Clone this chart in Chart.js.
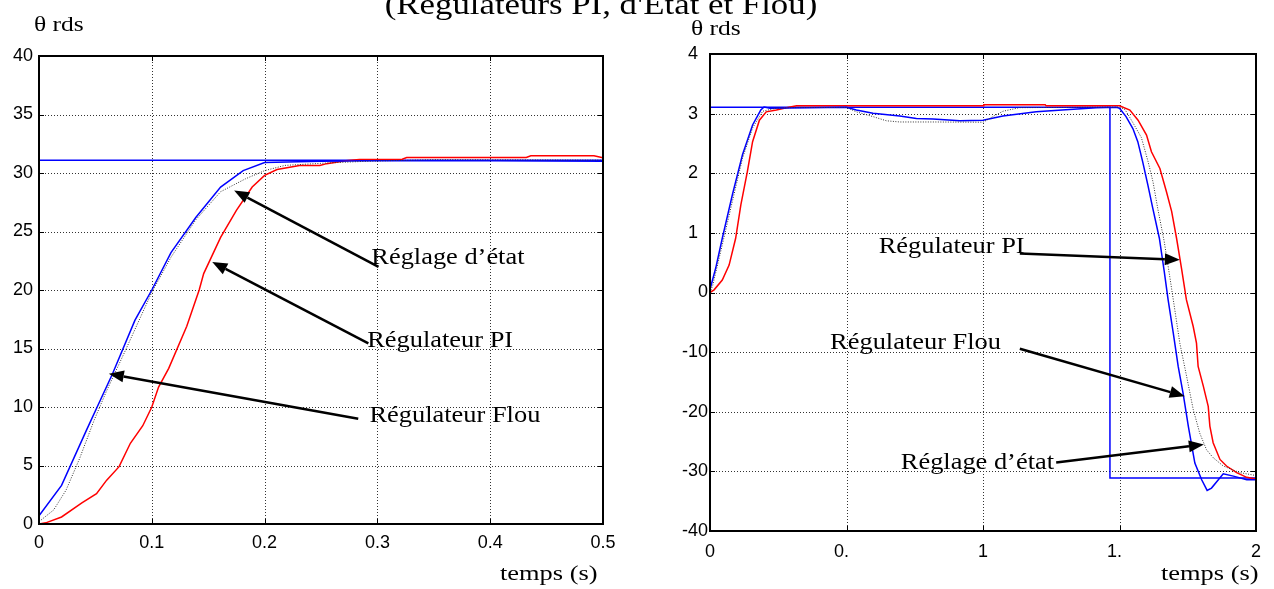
<!DOCTYPE html>
<html>
<head>
<meta charset="utf-8">
<script src="https://cdn.jsdelivr.net/npm/chart.js@4.4.0/dist/chart.umd.min.js"></script>
<style>
  html, body { margin: 0; padding: 0; background: #fff; }
  body { width: 1274px; height: 589px; position: relative; overflow: hidden;
         font-family: 'Liberation Serif', 'Times New Roman', serif; }
  .box { position: absolute; top: 0; }
  .lbl { position: absolute; white-space: nowrap; color: #000; line-height: 1; transform-origin: left top; }
</style>
</head>
<body>
<div class="box" style="left:0; width:637px; height:589px"><canvas id="leftChart" width="637" height="589"></canvas></div>
<div class="box" style="left:640px; width:634px; height:589px"><canvas id="rightChart" width="634" height="589"></canvas></div>

<div class="lbl" style="left:0; width:1202px; text-align:center; top:-11px; font-size:30px; transform-origin:center top; transform:scaleX(1.16)">(Régulateurs PI, d'Etat et Flou)</div>
<div class="lbl" style="left:34px; top:13px; font-size:22px; transform:scaleX(1.16)">θ rds</div>
<div class="lbl" style="left:691px; top:17px; font-size:22px; transform:scaleX(1.16)">θ rds</div>
<div class="lbl" style="left:500px; top:562px; font-size:22px; transform:scaleX(1.2)">temps (s)</div>
<div class="lbl" style="left:1161px; top:562px; font-size:22px; transform:scaleX(1.2)">temps (s)</div>

<script>
// ---- left plot (0 - 0.5 s) ----
const leftTicksX = [0, 0.1, 0.2, 0.3, 0.4, 0.5];
const leftLabelsX = ['0', '0.1', '0.2', '0.3', '0.4', '0.5'];
const leftTicksY = [0, 5, 10, 15, 20, 25, 30, 35, 40];
const leftLabelsY = ['0', '5', '10', '15', '20', '25', '30', '35', '40'];

// consigne
const refLeftT = [0, 0.5];
const refLeftV = [31.08, 31.08];
// régulateur flou (bleu)
const flouLeftT = [0, 0.02, 0.042, 0.053, 0.065, 0.085, 0.1, 0.117, 0.139, 0.161, 0.181, 0.2, 0.25, 0.3, 0.4, 0.5];
const flouLeftV = [0.7, 3.3, 8.0, 10.3, 12.8, 17.4, 20.0, 23.2, 26.2, 28.8, 30.2, 30.9, 31.0, 31.05, 31.05, 31.0];
// réglage d'état (pointillé)
const etatLeftT = [0, 0.013, 0.024, 0.036, 0.049, 0.06, 0.075, 0.1, 0.117, 0.139, 0.161, 0.183, 0.2, 0.218, 0.254, 0.29, 0.35, 0.5];
const etatLeftV = [0.2, 1.2, 2.9, 5.6, 8.9, 11.4, 14.5, 19.8, 22.8, 26.0, 28.4, 29.5, 30.2, 30.65, 30.85, 31.0, 31.15, 31.1];
// régulateur PI (rouge)
const piLeftT = [0, 0.006, 0.02, 0.038, 0.051, 0.06, 0.071, 0.081, 0.092, 0.1, 0.106, 0.115, 0.131, 0.142, 0.146, 0.161, 0.175, 0.189, 0.2, 0.211, 0.231, 0.249, 0.255, 0.272, 0.284, 0.322, 0.326, 0.432, 0.436, 0.492, 0.5];
const piLeftV = [0, 0.1, 0.6, 1.8, 2.6, 3.75, 4.9, 6.9, 8.4, 10.0, 11.7, 13.3, 16.9, 20.0, 21.4, 24.5, 26.8, 28.8, 29.8, 30.3, 30.65, 30.65, 30.8, 31.05, 31.15, 31.18, 31.33, 31.33, 31.48, 31.48, 31.3];

// ---- right plot (0 - 2 s) ----
// labels are cut in the original figure ("0." for 0.5, "4" for 40 ...);
// a figure space keeps them where the full label would sit
const rightTicksX = [0, 0.5, 1, 1.5, 2];
const rightLabelsX = ['0', '0.\u2007', '1', '1.\u2007', '2'];
const rightTicksY = [-40, -30, -20, -10, 0, 10, 20, 30, 40];
const rightLabelsY = ['-40', '-30', '-20', '-10', '0', '1\u2007', '2\u2007', '3\u2007', '4\u2007'];

const refRightT = [0, 1.465, 1.465, 2];
const refRightV = [31.07, 31.07, -31.1, -31.1];
const flouRightT = [0, 0.021, 0.045, 0.082, 0.119, 0.156, 0.186, 0.198, 0.22, 0.5, 0.536, 0.597, 0.695, 0.756, 0.817, 0.915, 1.0, 1.073, 1.195, 1.317, 1.415, 1.489, 1.5, 1.524, 1.549, 1.567, 1.585, 1.604, 1.622, 1.646, 1.664, 1.678, 1.697, 1.715, 1.733, 1.752, 1.776, 1.801, 1.821, 1.837, 1.88, 1.917, 1.966, 2.0];
const flouRightV = [0.5, 4.1, 9.1, 16.4, 23.1, 28.1, 30.6, 31.1, 30.9, 31.05, 30.6, 30.07, 29.6, 29.2, 29.1, 28.8, 28.9, 29.6, 30.3, 30.7, 31.0, 31.05, 30.9, 29.5, 27.5, 25.3, 21.9, 18.0, 14.1, 9.1, 3.5, -1.2, -6.8, -12.4, -16.9, -22.4, -28.6, -31.4, -33.2, -32.8, -30.4, -30.8, -31.4, -31.4];
const etatRightT = [0, 0.01, 0.045, 0.082, 0.119, 0.156, 0.193, 0.24, 0.3, 0.5, 0.536, 0.597, 0.646, 0.695, 0.817, 1.0, 1.036, 1.073, 1.134, 1.5, 1.52, 1.545, 1.58, 1.605, 1.623, 1.64, 1.664, 1.683, 1.697, 1.721, 1.746, 1.77, 1.794, 1.819, 1.843, 1.88, 1.94, 2.0];
const etatRightV = [0, 1.2, 8.0, 15.3, 22.5, 27.6, 30.4, 30.9, 31.0, 31.05, 30.3, 29.5, 28.8, 28.6, 28.6, 28.56, 29.5, 30.4, 31.0, 31.1, 30.7, 28.8, 26.0, 21.9, 18.5, 14.1, 8.5, 3.0, -1.2, -8.5, -14.1, -19.6, -23.6, -26.4, -27.7, -29.1, -30.2, -30.7];
const piRightT = [0, 0.015, 0.045, 0.07, 0.094, 0.113, 0.137, 0.156, 0.181, 0.206, 0.243, 0.28, 0.317, 1.0, 1.003, 1.228, 1.231, 1.5, 1.538, 1.568, 1.599, 1.617, 1.648, 1.672, 1.691, 1.709, 1.727, 1.745, 1.77, 1.782, 1.788, 1.807, 1.825, 1.831, 1.843, 1.868, 1.892, 1.929, 1.966, 2.0];
const piRightV = [0, 0.45, 2.1, 4.6, 9.1, 14.7, 20.3, 25.3, 28.9, 30.3, 30.6, 31.0, 31.3, 31.3, 31.5, 31.5, 31.3, 31.3, 30.6, 28.9, 26.4, 23.6, 20.8, 16.9, 13.6, 9.1, 4.1, -1.2, -5.7, -8.5, -12.4, -15.7, -19.1, -22.4, -25.2, -28.0, -29.1, -30.2, -31.0, -31.3];

// annotations with arrows (data coordinates)
const notesLeft = [
  { text: 'Réglage d’état', at: [0.2946, 22.26], from: [0.301, 21.97], to: [0.173, 28.5] },
  { text: 'Régulateur PI', at: [0.291, 15.14], from: [0.292, 15.43], to: [0.1536, 22.4] },
  { text: 'Régulateur Flou', at: [0.293, 8.72], from: [0.283, 9.0], to: [0.0619, 12.84] }
];
const notesRight = [
  { text: 'Régulateur PI', at: [0.618, 6.56], from: [1.135, 6.56], to: [1.721, 5.48] },
  { text: 'Régulateur Flou', at: [0.44, -9.44], from: [1.135, -9.44], to: [1.739, -17.4] },
  { text: 'Réglage d’état', at: [0.699, -29.6], from: [1.268, -28.5], to: [1.809, -25.5] }
];

const pts = (t, v) => t.map((x, i) => ({ x: x, y: v[i] }));

// dotted grid, frame with inner ticks, arrows
const matlabFrame = {
  id: 'matlabFrame',
  beforeDatasetsDraw(chart) {
    const { ctx, chartArea: a, scales: { x, y } } = chart;
    ctx.save();
    ctx.strokeStyle = '#333';
    ctx.lineWidth = 1;
    ctx.setLineDash([1, 2]);
    x.ticks.forEach(t => {
      const px = Math.round(x.getPixelForValue(t.value)) + 0.5;
      ctx.beginPath(); ctx.moveTo(px, a.top); ctx.lineTo(px, a.bottom); ctx.stroke();
    });
    y.ticks.forEach(t => {
      const py = Math.round(y.getPixelForValue(t.value)) + 0.5;
      ctx.beginPath(); ctx.moveTo(a.left, py); ctx.lineTo(a.right, py); ctx.stroke();
    });
    ctx.restore();
  },
  afterDatasetsDraw(chart, args, opts) {
    const { ctx, chartArea: a, scales: { x, y } } = chart;
    ctx.save();
    ctx.strokeStyle = '#000';
    ctx.lineWidth = 1;
    const tl = 5;
    x.ticks.forEach(t => {
      const px = Math.round(x.getPixelForValue(t.value)) + 0.5;
      ctx.beginPath();
      ctx.moveTo(px, a.bottom); ctx.lineTo(px, a.bottom - tl);
      ctx.moveTo(px, a.top); ctx.lineTo(px, a.top + tl);
      ctx.stroke();
    });
    y.ticks.forEach(t => {
      const py = Math.round(y.getPixelForValue(t.value)) + 0.5;
      ctx.beginPath();
      ctx.moveTo(a.left, py); ctx.lineTo(a.left + tl, py);
      ctx.moveTo(a.right, py); ctx.lineTo(a.right - tl, py);
      ctx.stroke();
    });
    ctx.lineWidth = 2;
    ctx.strokeRect(a.left, a.top, a.right - a.left, a.bottom - a.top);

    // arrows + labels
    ctx.fillStyle = '#000';
    ctx.font = '24px "Liberation Serif", "Times New Roman", serif';
    ctx.textBaseline = 'alphabetic';
    ctx.textAlign = 'left';
    (opts.notes || []).forEach(n => {
      ctx.save();
      ctx.translate(x.getPixelForValue(n.at[0]), y.getPixelForValue(n.at[1]));
      ctx.scale(1.1, 1);
      ctx.fillText(n.text, 0, 0);
      ctx.restore();
      const x1 = x.getPixelForValue(n.from[0]), y1 = y.getPixelForValue(n.from[1]);
      const x2 = x.getPixelForValue(n.to[0]), y2 = y.getPixelForValue(n.to[1]);
      const ang = Math.atan2(y2 - y1, x2 - x1);
      const hl = 15, hw = 6;
      const bx = x2 - hl * Math.cos(ang), by = y2 - hl * Math.sin(ang);
      ctx.lineWidth = 2.5;
      ctx.beginPath(); ctx.moveTo(x1, y1); ctx.lineTo(bx, by); ctx.stroke();
      ctx.beginPath();
      ctx.moveTo(x2, y2);
      ctx.lineTo(bx + hw * Math.sin(ang), by - hw * Math.cos(ang));
      ctx.lineTo(bx - hw * Math.sin(ang), by + hw * Math.cos(ang));
      ctx.closePath();
      ctx.fill();
    });
    ctx.restore();
  }
};

function makeChart(id, c) {
  const tickFont = { family: '"Liberation Sans", Arial, sans-serif', size: 18 };
  return new Chart(document.getElementById(id), {
    type: 'line',
    data: {
      datasets: [
        { data: pts(c.etat[0], c.etat[1]), borderColor: '#333', borderWidth: 1, borderDash: [1, 1.5] },
        { data: pts(c.flou[0], c.flou[1]), borderColor: '#0000ff', borderWidth: 1.5 },
        { data: pts(c.pi[0], c.pi[1]), borderColor: '#ff0000', borderWidth: 1.5 },
        { data: pts(c.ref[0], c.ref[1]), borderColor: '#0000ff', borderWidth: 1.5 }
      ]
    },
    options: {
      responsive: false,
      animation: false,
      devicePixelRatio: 1,
      layout: { padding: c.padding },
      elements: { point: { radius: 0 }, line: { tension: 0 } },
      plugins: {
        legend: { display: false },
        tooltip: { enabled: false },
        matlabFrame: { notes: c.notes }
      },
      scales: {
        x: {
          type: 'linear', min: c.xTicks[0], max: c.xTicks[c.xTicks.length - 1],
          grid: { display: false, drawTicks: false }, border: { display: false },
          afterBuildTicks: s => { s.ticks = c.xTicks.map(v => ({ value: v })); },
          afterFit: s => { s.height = c.xHeight; },
          ticks: { autoSkip: false, maxRotation: 0, color: '#000', font: tickFont, padding: c.xPad,
                   callback: (v, i) => c.xLabels[i] }
        },
        y: {
          type: 'linear', min: c.yTicks[0], max: c.yTicks[c.yTicks.length - 1],
          grid: { display: false, drawTicks: false }, border: { display: false },
          afterBuildTicks: s => { s.ticks = c.yTicks.map(v => ({ value: v })); },
          afterFit: s => { s.width = c.yWidth; },
          ticks: { autoSkip: false, color: '#000', font: tickFont, padding: c.yPad,
                   callback: (v, i) => c.yLabels[i] }
        }
      }
    },
    plugins: [matlabFrame]
  });
}

makeChart('leftChart', {
  ref: [refLeftT, refLeftV], flou: [flouLeftT, flouLeftV], etat: [etatLeftT, etatLeftV], pi: [piLeftT, piLeftV],
  xTicks: leftTicksX, xLabels: leftLabelsX, yTicks: leftTicksY, yLabels: leftLabelsY,
  notes: notesLeft,
  padding: { top: 56, right: 34, left: 0, bottom: 0 },
  yWidth: 39, xHeight: 65, xPad: 8, yPad: 6
});

makeChart('rightChart', {
  ref: [refRightT, refRightV], flou: [flouRightT, flouRightV], etat: [etatRightT, etatRightV], pi: [piRightT, piRightV],
  xTicks: rightTicksX, xLabels: rightLabelsX, yTicks: rightTicksY, yLabels: rightLabelsY,
  notes: notesRight,
  padding: { top: 54, right: 18, left: 0, bottom: 0 },
  yWidth: 70, xHeight: 58, xPad: 10, yPad: 2
});
</script>
</body>
</html>
